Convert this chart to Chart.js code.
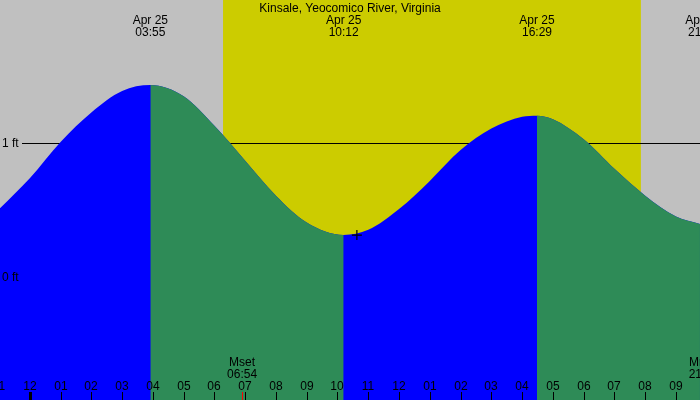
<!DOCTYPE html>
<html>
<head>
<meta charset="utf-8">
<script src="https://cdn.jsdelivr.net/npm/chart.js@4/dist/chart.umd.min.js"></script>
<style>
  body { margin: 0; background: #fff; }
  #tideChart { display: block; }
</style>
</head>
<body>
<canvas id="tideChart" width="700" height="400"></canvas>
<script>
// tide height (ft), hours since midnight Apr 25
const hours = [-0.97, 0, 1, 2, 3, 3.917, 5, 6, 7, 8, 9, 10.2, 11, 12, 13, 14, 15, 16, 16.483, 17, 18, 19, 20, 21, 21.78];
const feet = [0.516, 0.74, 1.01, 1.23, 1.39, 1.434, 1.35, 1.13, 0.87, 0.61, 0.41, 0.317, 0.355, 0.51, 0.72, 0.95, 1.11, 1.198, 1.206, 1.18, 1.03, 0.81, 0.61, 0.455, 0.399];

// high / low tide events shown at top
const eventHours = [3.917, 10.2, 16.483, 21.88];
const eventTimes = ["03:55", "10:12", "16:29", "21:53"];
const eventDate = "Apr 25";

// daylight
const sunrise = 6.28;
const sunset = 19.86;

// moon events at bottom
const moonHours = [6.9, 21.9];
const moonNames = ["Mset", "Mrise"];
const moonTimes = ["06:54", "21:54"];

// hour ticks
const tickHours = [-1, 0, 1, 2, 3, 4, 5, 6, 7, 8, 9, 10, 11, 12, 13, 14, 15, 16, 17, 18, 19, 20, 21];
const tickLabels = ["11", "12", "01", "02", "03", "04", "05", "06", "07", "08", "09", "10", "11", "12", "01", "02", "03", "04", "05", "06", "07", "08", "09"];

const levelFeet = [0, 1];
const levelLabels = ["0 ft", "1 ft"];

const marker = [{ x: 10.63, y: 0.316 }];

const title = "Kinsale, Yeocomico River, Virginia";

const FONT = "12px 'Liberation Sans', Arial, sans-serif";

function isFalling(x) {
  return (x >= eventHours[0] && x < eventHours[1]) || x >= eventHours[2];
}

const tidePlugin = {
  id: "tidePlugin",
  beforeDatasetsDraw(chart) {
    const ctx = chart.ctx;
    const xs = chart.scales.x;
    const ys = chart.scales.y;
    const area = chart.chartArea;

    ctx.save();
    // night / day background
    ctx.fillStyle = "#c0c0c0";
    ctx.fillRect(area.left, area.top, area.right - area.left, area.bottom - area.top);
    const x1 = xs.getPixelForValue(sunrise);
    const x2 = xs.getPixelForValue(sunset);
    ctx.fillStyle = "#cccc00";
    ctx.fillRect(x1, area.top, x2 - x1, area.bottom - area.top);

    // level lines (behind the water)
    ctx.strokeStyle = "#000";
    ctx.lineWidth = 1;
    levelFeet.forEach(function (v) {
      const y = Math.round(ys.getPixelForValue(v)) + 0.5;
      ctx.beginPath();
      ctx.moveTo(22, y);
      ctx.lineTo(area.right, y);
      ctx.stroke();
    });
    ctx.restore();
  },
  afterDraw(chart) {
    const ctx = chart.ctx;
    const xs = chart.scales.x;
    const ys = chart.scales.y;

    ctx.save();
    ctx.font = FONT;
    ctx.fillStyle = "#000";
    ctx.textBaseline = "alphabetic";

    // title
    ctx.textAlign = "center";
    ctx.fillText(title, 350, 12);

    // tide events
    eventHours.forEach(function (h, i) {
      const x = xs.getPixelForValue(h);
      ctx.fillText(eventDate, x, 24);
      ctx.fillText(eventTimes[i], x, 36);
    });

    // level labels
    ctx.textAlign = "left";
    levelFeet.forEach(function (v, i) {
      const y = ys.getPixelForValue(v);
      ctx.fillText(levelLabels[i], 2, y + 4);
    });

    // hour ticks and labels
    ctx.textAlign = "center";
    tickHours.forEach(function (h, i) {
      const x = Math.round(xs.getPixelForValue(h));
      ctx.fillText(tickLabels[i], x, 390);
      ctx.fillRect(h === 0 ? x - 1 : x, 392, h === 0 ? 3 : 1, 8);
    });

    // moon events
    moonHours.forEach(function (h, i) {
      const x = xs.getPixelForValue(h);
      ctx.fillStyle = "#000";
      ctx.fillText(moonNames[i], x, 366);
      ctx.fillText(moonTimes[i], x, 378);
      ctx.fillStyle = "#ff0000";
      ctx.fillRect(Math.round(x), 392, 1, 8);
    });
    ctx.restore();
  },
};

const tidePoints = hours.map((h, i) => ({ x: h, y: feet[i] }));

const chart = new Chart(document.getElementById("tideChart"), {
  type: "line",
  data: {
    datasets: [
      {
        // crosshair marker, on top
        type: "scatter",
        data: marker,
        order: 0,
        pointStyle: "cross",
        pointRadius: 5,
        borderColor: "#000",
        borderWidth: 1.2,
        fill: false,
      },
      {
        // falling tide (green), over the blue
        data: tidePoints,
        order: 1,
        borderWidth: 0,
        pointRadius: 0,
        cubicInterpolationMode: "monotone",
        fill: "start",
        backgroundColor: "#2e8b57",
        segment: {
          backgroundColor: (ctx) => (isFalling(ctx.p0.parsed.x) ? "#2e8b57" : "rgba(0,0,0,0)"),
        },
      },
      {
        // whole water body in blue (rising tide shows through)
        data: tidePoints,
        order: 2,
        borderWidth: 0,
        pointRadius: 0,
        cubicInterpolationMode: "monotone",
        fill: "start",
        backgroundColor: "#0000ff",
      },
    ],
  },
  options: {
    responsive: false,
    animation: false,
    layout: { padding: 0, autoPadding: false },
    scales: {
      x: { type: "linear", min: -0.9685, max: 21.781, display: false },
      y: { min: -0.913, max: 2.068, display: false },
    },
    plugins: {
      legend: { display: false },
      tooltip: { enabled: false },
      title: { display: false },
    },
  },
  plugins: [tidePlugin],
});
</script>
</body>
</html>
